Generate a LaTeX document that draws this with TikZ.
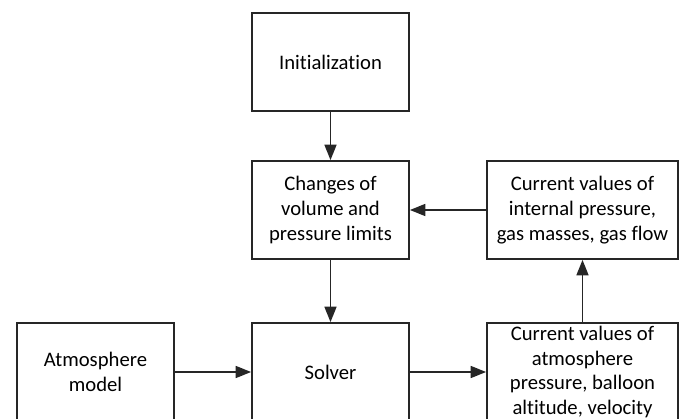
\documentclass[tikz,border=0pt]{standalone}
\usepackage{fontspec}
\setmainfont[Ligatures=NoCommon]{Carlito}
\usepackage{tikz}
\usetikzlibrary{arrows.meta}
\tikzset{blk/.style={draw=black!85,line width=1.2pt,align=center,minimum width=3.925cm,minimum height=2.45cm,inner sep=0pt,font=\fontsize{14.7}{17.7}\selectfont}}
\tikzset{wblk/.style={blk,minimum width=4.775cm}}
\tikzset{flow/.style={draw=black!85,line width=1.2pt,-{Triangle[length=11pt,width=8.5pt]}}}

\begin{document}
\begin{tikzpicture}[x=0.025cm,y=-0.025cm]
  \useasboundingbox (0,0) rectangle (683,419);
  % upper column
  \node[blk] (init) at (330.5,62) {Initialization};
  \node[blk] (chg) at (330.5,210) {Changes of\\volume and\\pressure limits};
  \node[wblk] (curtop) at (582.5,210) {Current values of\\internal pressure,\\gas masses, gas flow};
  % lower row
  \node[blk] (atm) at (95.5,372) {Atmosphere\\model};
  \node[blk] (solver) at (330.5,372) {Solver};
  \node[wblk] (curbot) at (582.5,372) {Current values of\\atmosphere\\pressure, balloon\\altitude, velocity};
  % connectors
  \draw[flow] (init) -- (chg);
  \draw[flow] (chg) -- (solver);
  \draw[flow] (curtop) -- (chg);
  \draw[flow] (atm) -- (solver);
  \draw[flow] (solver) -- (curbot);
  \draw[flow] (curbot) -- (curtop);
\end{tikzpicture}
\end{document}
